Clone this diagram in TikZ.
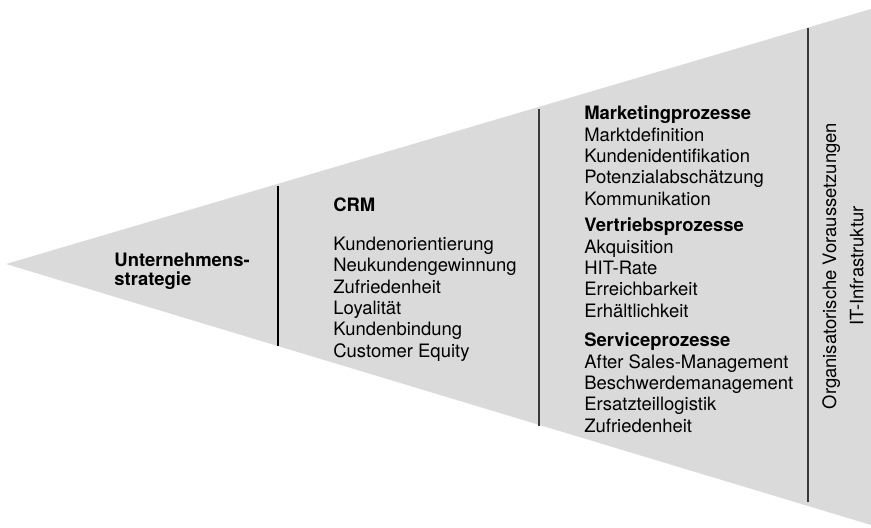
\documentclass[tikz,border=0pt]{standalone}
\usepackage{fontspec}
\setmainfont{TeX Gyre Heros}
\definecolor{wedgegray}{gray}{0.855}
\definecolor{bargray}{gray}{0.22}

\begin{document}
\begin{tikzpicture}[x=0.02cm, y=-0.02cm,
  txt/.style={anchor=base west, align=left, inner sep=0pt, font=\fontsize{10.5}{12.1}\selectfont},
  head/.style={txt, font=\bfseries\fontsize{10.5}{12.1}\selectfont},
  sep/.style={line width=1pt}]
\useasboundingbox (0,0) rectangle (871,527);
% the wedge
\fill[wedgegray] (6,264) -- (871,9) -- (871,525) -- cycle;
% dividers
\draw[sep, black] (278,186) -- (278,346);
\draw[sep, bargray] (539,109) -- (539,426);
\draw[sep, bargray] (808,28) -- (808,502);
% text blocks, placed at the baseline of their last line
\node[head, font=\bfseries\fontsize{10.5}{10.5}\selectfont] (strategie) at (114,285) {Unternehmens-\\strategie};
% CRM
\node[head] (crm) at (333,211) {CRM};
\node[txt] (crmlist) at (333,357) {Kundenorientierung\\Neukundengewinnung\\Zufriedenheit\\Loyalität\\Kundenbindung\\Customer Equity};
% processes
\node[txt] (marketing) at (584,205) {\textbf{Marketingprozesse}\\Marktdefinition\\Kundenidentifikation\\Potenzialabschätzung\\Kommunikation};
\node[txt] (vertrieb) at (584,317) {\textbf{Vertriebsprozesse}\\Akquisition\\HIT-Rate\\Erreichbarkeit\\Erhältlichkeit};
\node[txt] (service) at (584,432) {\textbf{Serviceprozesse}\\After Sales-Management\\Beschwerdemanagement\\Ersatzteillogistik\\Zufriedenheit};
% right strip
\node[rotate=90, align=center, inner sep=0pt, font=\fontsize{10.5}{15.4}\selectfont] (infra) at (843,266) {Organisatorische Voraussetzungen\\IT-Infrastruktur};
\end{tikzpicture}
\end{document}
